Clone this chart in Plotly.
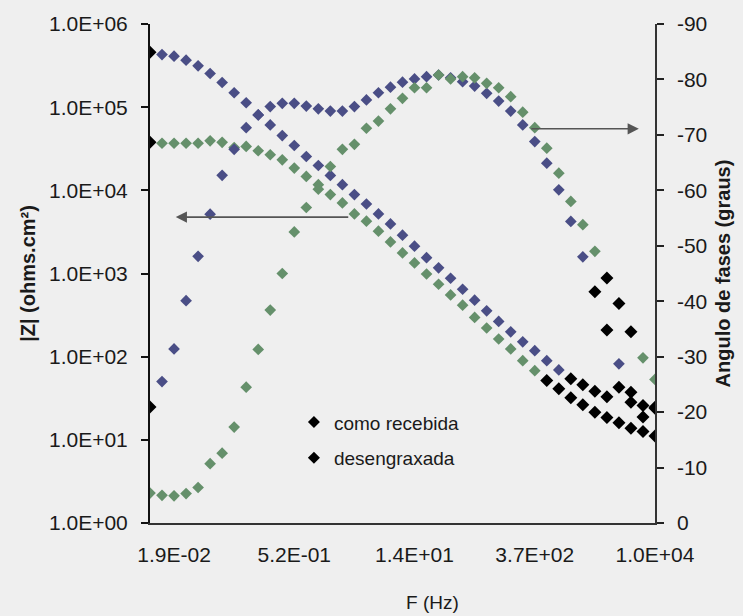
import plotly.graph_objects as go

# Frequency sweep (Hz), 7 points per decade
freq = [0.01, 0.01389, 0.01931, 0.02683, 0.03728, 0.05179, 0.07197,
        0.1, 0.1389, 0.1931, 0.2683, 0.3728, 0.5179, 0.7197,
        1, 1.389, 1.931, 2.683, 3.728, 5.179, 7.197,
        10, 13.89, 19.31, 26.83, 37.28, 51.79, 71.97,
        100, 138.9, 193.1, 268.3, 372.8, 517.9, 719.7,
        1000, 1389, 1931, 2683, 3728, 5179, 7197,
        10000]

# |Z| (ohm.cm2)
z_recebida = [4.57e5, 4.29e5, 4.10e5, 3.67e5, 3.14e5, 2.54e5, 1.98e5,
              1.49e5, 1.13e5, 8.07e4, 6.12e4, 4.56e4, 3.46e4, 2.55e4,
              1.99e4, 1.51e4, 1.17e4, 8.89e3, 6.85e3, 5.20e3, 3.94e3,
              2.89e3, 2.13e3, 1.55e3, 1.17e3, 877, 647, 478,
              356, 265, 199, 151, 118, 89.5, 69.3,
              54.1, 45.8, 38.4, 32.9, 42.9, 28.4, 25.9,
              24.7]
z_desengraxada = [3.78e4, 3.68e4, 3.68e4, 3.68e4, 3.68e4, 3.94e4, 3.78e4,
                  3.27e4, 3.37e4, 2.99e4, 2.68e4, 2.33e4, 1.85e4, 1.47e4,
                  1.17e4, 8.89e3, 7.05e3, 5.20e3, 4.26e3, 3.23e3, 2.40e3,
                  1.77e3, 1.34e3, 986, 743, 553, 416, 296,
                  221, 163, 124, 89.5, 67.9, 51.6, 41.0,
                  32.0, 26.4, 21.5, 18.6, 16.1, 13.8, 12.6,
                  11.1]

# Phase angle (degrees)
fase_recebida = [-20.9, -25.5, -31.4, -40.1, -48.1, -55.7, -62.7,
                 -67.4, -71.3, -73.6, -75.1, -75.7, -75.7, -75.2,
                 -74.7, -74.3, -74.3, -75.1, -76.3, -77.6, -78.6,
                 -79.5, -80.1, -80.5, -80.8, -80.3, -79.6, -78.8,
                 -77.5, -76.1, -74.3, -71.8, -68.8, -64.9, -60.1,
                 -54.4, -48.0, -41.7, -34.8, -28.7, -23.6, -19.1,
                 -20.7]
fase_desengraxada = [-5.4, -5.0, -4.9, -5.3, -6.4, -10.7, -12.6,
                     -17.3, -24.5, -31.3, -38.4, -45.0, -52.5, -56.9,
                     -60.2, -64.3, -67.4, -68.3, -71.2, -72.5, -74.7,
                     -76.6, -78.5, -78.5, -80.8, -80.1, -80.5, -80.3,
                     -79.3, -78.5, -76.9, -74.1, -71.3, -67.6, -63.1,
                     -58.0, -53.8, -49.0, -44.2, -39.6, -34.5, -29.8,
                     -25.9]

series_names = ["como recebida", "desengraxada"]

x_tick_idx = [2, 12, 22, 32, 42]
x_tick_text = ["1.9E-02", "5.2E-01", "1.4E+01", "3.7E+02", "1.0E+04"]
z_tick_vals = [1, 10, 100, 1e3, 1e4, 1e5, 1e6]
z_tick_text = ["1.0E+00", "1.0E+01", "1.0E+02", "1.0E+03", "1.0E+04", "1.0E+05", "1.0E+06"]
fase_tick_vals = [0, -10, -20, -30, -40, -50, -60, -70, -80, -90]
fase_tick_text = ["0", "-10", "-20", "-30", "-40", "-50", "-60", "-70", "-80", "-90"]

BLUE = "#4a4e86"
GREEN = "#65906b"
BLACK = "#000000"
BG = "#efefef"
INK = "#1a1a1a"
FONT = "Liberation Sans, Arial, sans-serif"


def point_colors(base, n, dark):
    return [BLACK if i in dark else base for i in range(n)]


def point_sizes(n, dark):
    return [10 if i in dark else 9 for i in range(n)]


n = len(freq)
dark_z_rec = {0} | set(range(35, 43))
dark_z_des = {0} | set(range(33, 43))
dark_f_rec = {0, 37, 38, 40, 41, 42}
dark_f_des = {38, 39, 40}


def add_series(y, name, base, dark, axis, group, legend):
    fig.add_trace(go.Scatter(
        x=freq, y=y, mode="markers", name=name, legendgroup=group,
        showlegend=legend, yaxis=axis,
        marker=dict(symbol="diamond", color=point_colors(base, n, dark),
                    size=point_sizes(n, dark), opacity=1, line=dict(width=0))))


fig = go.Figure()
add_series(z_recebida, series_names[0], BLUE, dark_z_rec, "y", "rec", True)
add_series(z_desengraxada, series_names[1], GREEN, dark_z_des, "y", "des", True)
add_series(fase_recebida, series_names[0], BLUE, dark_f_rec, "y2", "rec", False)
add_series(fase_desengraxada, series_names[1], GREEN, dark_f_des, "y2", "des", False)

tick_font = dict(family=FONT, size=21, color=INK)
title_font = dict(family=FONT, size=20, color=INK)

fig.update_layout(
    width=743, height=616,
    margin=dict(l=150, r=85, t=22, b=93),
    paper_bgcolor=BG, plot_bgcolor=BG,
    font=dict(family=FONT, size=20, color=INK),
    xaxis=dict(
        type="log", range=[-2, 4],
        tickvals=[freq[i] for i in x_tick_idx], ticktext=x_tick_text,
        ticks="", showgrid=False, zeroline=False,
        showline=True, linecolor="#333333", linewidth=1.5,
        tickfont=tick_font, ticklabelstandoff=12,
    ),
    yaxis=dict(
        type="log", range=[0, 6],
        tickvals=z_tick_vals, ticktext=z_tick_text,
        ticks="outside", ticklen=7, tickwidth=1.5, tickcolor="#111111",
        showgrid=False, zeroline=False,
        showline=True, linecolor="#111111", linewidth=2,
        tickfont=tick_font, ticklabelstandoff=9,
        title=dict(text="<b>|Z| (ohms.cm²)</b>", font=title_font, standoff=8),
    ),
    yaxis2=dict(
        overlaying="y", side="right", anchor="x",
        range=[0, -90],
        tickvals=fase_tick_vals, ticktext=fase_tick_text,
        ticks="outside", ticklen=7, tickwidth=1.5, tickcolor="#222222",
        showgrid=False, zeroline=False,
        showline=True, linecolor="#333333", linewidth=1.5,
        tickfont=tick_font, ticklabelstandoff=9,
        title=dict(text="<b>Angulo de fases (graus)</b>", font=title_font, standoff=10),
    ),
    # inner halves of the crossing tick marks
    yaxis3=dict(
        overlaying="y", side="left", anchor="x", type="log", range=[0, 6],
        tickvals=z_tick_vals, ticks="inside", ticklen=7, tickwidth=1.5,
        tickcolor="#111111", showticklabels=False, showline=False,
        showgrid=False, zeroline=False,
    ),
    yaxis4=dict(
        overlaying="y", side="right", anchor="x", range=[0, -90],
        tickvals=fase_tick_vals, ticks="inside", ticklen=7, tickwidth=1.5,
        tickcolor="#222222", showticklabels=False, showline=False,
        showgrid=False, zeroline=False,
    ),
    legend=dict(
        x=0.285, y=0.24, xanchor="left", yanchor="top",
        bgcolor="rgba(0,0,0,0)", borderwidth=0,
        font=dict(family=FONT, size=19, color=INK),
        itemwidth=30, tracegroupgap=8,
    ),
    showlegend=True,
)

# Frequency axis title
fig.add_annotation(
    xref="paper", yref="paper", x=0.56, y=-0.135, xanchor="center", yanchor="top",
    text="F (Hz)", showarrow=False, font=dict(family=FONT, size=19, color=INK))

# Arrows pointing each set of curves to its axis
fig.add_annotation(
    xref="paper", yref="paper", x=0.051, y=0.613, ax=174, ay=0,
    text="", showarrow=True, arrowhead=2, arrowsize=1.4, arrowwidth=1.6,
    arrowcolor="#555555")
fig.add_annotation(
    xref="paper", yref="paper", x=0.968, y=0.790, ax=-109, ay=0,
    text="", showarrow=True, arrowhead=2, arrowsize=1.4, arrowwidth=1.6,
    arrowcolor="#555555")

fig.write_html("out.html")
